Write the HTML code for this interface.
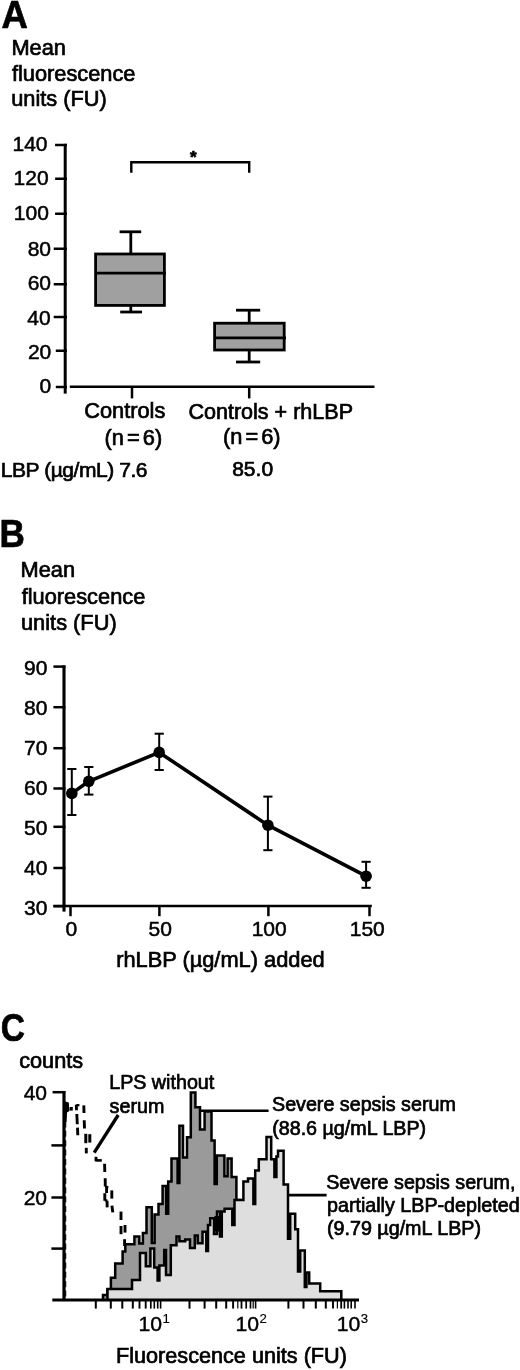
<!DOCTYPE html>
<html lang="en">
<head>
<meta charset="utf-8">
<title>Figure</title>
<style>
html,body{margin:0;padding:0;background:#fff;}
body{width:520px;height:1370px;overflow:hidden;}
svg{display:block;}
svg text{font-family:"Liberation Sans", Arial, Helvetica, sans-serif;fill:#000;}
svg text{stroke:#000;stroke-width:0.7px;}
</style>
</head>
<body>
<svg width="520" height="1370" viewBox="0 0 520 1370">
<rect x="0" y="0" width="520" height="1370" fill="#fff" stroke="none"/>
<g id="panelA" stroke="#000">
<text transform="translate(1.4,27.7) scale(0.95,1)" font-size="38.4" font-weight="bold">A</text>
<text x="11.4" y="54.6" font-size="21.8">Mean</text>
<text x="11.9" y="81.0" font-size="21.8">fluorescence</text>
<text x="11.2" y="106.3" font-size="21.8">units (FU)</text>
<line x1="65.2" y1="143.8" x2="65.2" y2="393.6" stroke-width="3.0"/>
<line x1="55.1" y1="145" x2="67.0" y2="145" stroke-width="2.5"/>
<text x="47.5" y="151.3" font-size="21" text-anchor="end" style="stroke-width:0.5px">140</text>
<line x1="55.1" y1="178.75" x2="67.0" y2="178.75" stroke-width="2.5"/>
<text x="48.6" y="185.3" font-size="21" text-anchor="end" style="stroke-width:0.5px">120</text>
<line x1="55.1" y1="213.75" x2="67.0" y2="213.75" stroke-width="2.5"/>
<text x="48.9" y="220.2" font-size="21" text-anchor="end" style="stroke-width:0.5px">100</text>
<line x1="53.7" y1="248.75" x2="67.0" y2="248.75" stroke-width="2.5"/>
<text x="51.0" y="255.8" font-size="21" text-anchor="end" style="stroke-width:0.5px">80</text>
<line x1="53.7" y1="284.25" x2="67.0" y2="284.25" stroke-width="2.5"/>
<text x="51.0" y="289.9" font-size="21" text-anchor="end" style="stroke-width:0.5px">60</text>
<line x1="53.7" y1="317" x2="67.0" y2="317" stroke-width="2.5"/>
<text x="50.6" y="324.5" font-size="21" text-anchor="end" style="stroke-width:0.5px">40</text>
<line x1="55.8" y1="350.75" x2="67.0" y2="350.75" stroke-width="2.5"/>
<text x="51.3" y="358.8" font-size="21" text-anchor="end" style="stroke-width:0.5px">20</text>
<line x1="55.8" y1="387" x2="67.0" y2="387" stroke-width="2.5"/>
<text x="51.3" y="393.2" font-size="21" text-anchor="end" style="stroke-width:0.5px">0</text>
<line x1="69.8" y1="386.8" x2="374.5" y2="386.8" stroke-width="2.5"/>
<line x1="132.0" y1="386.8" x2="132.0" y2="398.4" stroke-width="2.5"/>
<line x1="249.2" y1="386.8" x2="249.2" y2="398.4" stroke-width="2.5"/>
<polyline points="131.3,172.7 131.3,162.3 249.2,162.3 249.2,172.7" fill="none" stroke-width="2.4"/>
<text x="193.2" y="163.0" font-size="17" font-weight="bold" text-anchor="middle">*</text>
<line x1="130.8" y1="231.8" x2="130.8" y2="312" stroke-width="2.8"/>
<line x1="119.6" y1="231.8" x2="141.2" y2="231.8" stroke-width="2.8"/>
<line x1="120.2" y1="312" x2="142" y2="312" stroke-width="2.8"/>
<rect x="95.6" y="254.0" width="68.8" height="51.4" fill="#a0a0a0" stroke-width="2.8"/>
<line x1="95.6" y1="273.1" x2="166" y2="273.1" stroke-width="2.9"/>
<line x1="249.2" y1="310.2" x2="249.2" y2="362" stroke-width="2.8"/>
<line x1="236" y1="310.2" x2="260.2" y2="310.2" stroke-width="2.8"/>
<line x1="236" y1="362" x2="260.2" y2="362" stroke-width="2.8"/>
<rect x="214.6" y="323.2" width="69.6" height="26.8" fill="#a0a0a0" stroke-width="2.8"/>
<line x1="214.6" y1="337.9" x2="286" y2="337.9" stroke-width="2.9"/>
<text x="84.2" y="418.3" font-size="21.8">Controls</text>
<text x="104.6" y="445" font-size="21.8" word-spacing="-3">(n = 6)</text>
<text x="188.4" y="418.5" font-size="21.55">Controls + rhLBP</text>
<text x="223.0" y="444.4" font-size="21.8" word-spacing="-3">(n = 6)</text>
<text x="0.8" y="476.7" font-size="21" letter-spacing="-0.45">LBP (µg/mL) 7.6</text>
<text x="232.2" y="476.2" font-size="21">85.0</text>
</g>
<g id="panelB" stroke="#000">
<text transform="translate(-0.6,546.9) scale(0.917,1)" font-size="38.3" font-weight="bold">B</text>
<text x="20.5" y="577.3" font-size="21.8">Mean</text>
<text x="21.7" y="603.8" font-size="21.8">fluorescence</text>
<text x="21.0" y="629.6" font-size="21.8">units (FU)</text>
<line x1="64" y1="665.4" x2="64" y2="911.6" stroke-width="3.1"/>
<line x1="53.4" y1="666.6" x2="65.4" y2="666.6" stroke-width="2.5"/>
<text x="47.4" y="675.3" font-size="21" text-anchor="end" style="stroke-width:0.5px">90</text>
<line x1="53.4" y1="707.2" x2="65.4" y2="707.2" stroke-width="2.5"/>
<text x="47.4" y="715.3" font-size="21" text-anchor="end" style="stroke-width:0.5px">80</text>
<line x1="53.4" y1="748.2" x2="65.4" y2="748.2" stroke-width="2.5"/>
<text x="47.4" y="755.3" font-size="21" text-anchor="end" style="stroke-width:0.5px">70</text>
<line x1="53.4" y1="788.5" x2="65.4" y2="788.5" stroke-width="2.5"/>
<text x="47.4" y="795.3" font-size="21" text-anchor="end" style="stroke-width:0.5px">60</text>
<line x1="53.4" y1="826.8" x2="65.4" y2="826.8" stroke-width="2.5"/>
<text x="47.4" y="835.3" font-size="21" text-anchor="end" style="stroke-width:0.5px">50</text>
<line x1="53.4" y1="868" x2="65.4" y2="868" stroke-width="2.5"/>
<text x="47.4" y="875.3" font-size="21" text-anchor="end" style="stroke-width:0.5px">40</text>
<line x1="53.4" y1="906.2" x2="65.4" y2="906.2" stroke-width="2.5"/>
<text x="47.4" y="915.3" font-size="21" text-anchor="end" style="stroke-width:0.5px">30</text>
<line x1="53.4" y1="906.0" x2="371.8" y2="906.0" stroke-width="2.5"/>
<line x1="70.5" y1="906" x2="70.5" y2="916.2" stroke-width="2.5"/>
<text x="71.3" y="935.6" font-size="21" text-anchor="middle" style="stroke-width:0.5px">0</text>
<line x1="159.4" y1="906" x2="159.4" y2="916.2" stroke-width="2.5"/>
<text x="160.20000000000002" y="935.6" font-size="21" text-anchor="middle" style="stroke-width:0.5px">50</text>
<line x1="268.4" y1="906" x2="268.4" y2="916.2" stroke-width="2.5"/>
<text x="269.2" y="935.6" font-size="21" text-anchor="middle" style="stroke-width:0.5px">100</text>
<line x1="369.5" y1="906" x2="369.5" y2="916.2" stroke-width="2.5"/>
<text x="367.3" y="935.6" font-size="21" text-anchor="middle" style="stroke-width:0.5px">150</text>
<text x="116.2" y="967.2" font-size="21.8">rhLBP (µg/mL) added</text>
<polyline fill="none" stroke-width="3.6" stroke-linejoin="round" points="71.8,793.4 88.8,781.3 159.2,752.4 267.9,825.2 366.1,876.2"/>
<line x1="71.8" y1="769.0" x2="71.8" y2="815.0" stroke-width="2.0"/>
<line x1="67.2" y1="769.0" x2="76.39999999999999" y2="769.0" stroke-width="2.0"/>
<line x1="67.2" y1="815.0" x2="76.39999999999999" y2="815.0" stroke-width="2.0"/>
<circle cx="71.8" cy="793.4" r="5.8" fill="#000" stroke="none"/>
<line x1="88.8" y1="767.0" x2="88.8" y2="794.6" stroke-width="2.0"/>
<line x1="84.2" y1="767.0" x2="93.39999999999999" y2="767.0" stroke-width="2.0"/>
<line x1="84.2" y1="794.6" x2="93.39999999999999" y2="794.6" stroke-width="2.0"/>
<circle cx="88.8" cy="781.3" r="5.8" fill="#000" stroke="none"/>
<line x1="159.2" y1="733.7" x2="159.2" y2="770.0" stroke-width="2.0"/>
<line x1="154.6" y1="733.7" x2="163.79999999999998" y2="733.7" stroke-width="2.0"/>
<line x1="154.6" y1="770.0" x2="163.79999999999998" y2="770.0" stroke-width="2.0"/>
<circle cx="159.2" cy="752.4" r="5.8" fill="#000" stroke="none"/>
<line x1="267.9" y1="796.6" x2="267.9" y2="850.2" stroke-width="2.0"/>
<line x1="263.29999999999995" y1="796.6" x2="272.5" y2="796.6" stroke-width="2.0"/>
<line x1="263.29999999999995" y1="850.2" x2="272.5" y2="850.2" stroke-width="2.0"/>
<circle cx="267.9" cy="825.2" r="5.8" fill="#000" stroke="none"/>
<line x1="366.1" y1="861.8" x2="366.1" y2="887.8" stroke-width="2.0"/>
<line x1="361.5" y1="861.8" x2="370.70000000000005" y2="861.8" stroke-width="2.0"/>
<line x1="361.5" y1="887.8" x2="370.70000000000005" y2="887.8" stroke-width="2.0"/>
<circle cx="366.1" cy="876.2" r="5.8" fill="#000" stroke="none"/>
</g>
<g id="panelC" stroke="#000">
<text transform="translate(0.8,1040.9) scale(0.844,1)" font-size="39.7" font-weight="bold">C</text>
<text x="19.2" y="1068" font-size="21.7">counts</text>
<line x1="64.0" y1="1091.0" x2="64.0" y2="1300.4" stroke-width="3.2"/>
<line x1="52.6" y1="1092.2" x2="65.3" y2="1092.2" stroke-width="2.5"/>
<line x1="51.4" y1="1145.4" x2="65.3" y2="1145.4" stroke-width="2.5"/>
<line x1="51.4" y1="1197.5" x2="65.3" y2="1197.5" stroke-width="2.5"/>
<line x1="51.4" y1="1248.6" x2="65.3" y2="1248.6" stroke-width="2.5"/>
<text x="47.0" y="1100.3" font-size="21" text-anchor="end" style="stroke-width:0.5px">40</text>
<text x="47.0" y="1205.2" font-size="21" text-anchor="end" style="stroke-width:0.5px">20</text>
<line x1="52.3" y1="1300.0" x2="359.0" y2="1300.0" stroke-width="2.8"/>
<line x1="95.8" y1="1300.4" x2="95.8" y2="1308.6" stroke-width="2"/>
<line x1="110.8" y1="1300.4" x2="110.8" y2="1308.6" stroke-width="2"/>
<line x1="122.3" y1="1300.4" x2="122.3" y2="1308.6" stroke-width="2"/>
<line x1="132.8" y1="1300.4" x2="132.8" y2="1308.6" stroke-width="2"/>
<line x1="139.5" y1="1300.4" x2="139.5" y2="1308.6" stroke-width="1.9"/>
<line x1="145.7" y1="1300.4" x2="145.7" y2="1308.6" stroke-width="1.9"/>
<line x1="150.8" y1="1300.4" x2="150.8" y2="1308.6" stroke-width="1.7"/>
<line x1="154.3" y1="1300.4" x2="154.3" y2="1308.6" stroke-width="1.6"/>
<line x1="157.7" y1="1300.4" x2="157.7" y2="1308.6" stroke-width="1.6"/>
<line x1="160.6" y1="1300.4" x2="160.6" y2="1308.6" stroke-width="1.6"/>
<line x1="189.5" y1="1300.4" x2="189.5" y2="1308.6" stroke-width="2"/>
<line x1="204.6" y1="1300.4" x2="204.6" y2="1308.6" stroke-width="2"/>
<line x1="216.2" y1="1300.4" x2="216.2" y2="1308.6" stroke-width="2"/>
<line x1="226.2" y1="1300.4" x2="226.2" y2="1308.6" stroke-width="2"/>
<line x1="233.1" y1="1300.4" x2="233.1" y2="1308.6" stroke-width="1.9"/>
<line x1="237.8" y1="1300.4" x2="237.8" y2="1308.6" stroke-width="1.2"/>
<line x1="241.5" y1="1300.4" x2="241.5" y2="1308.6" stroke-width="1.8"/>
<line x1="246.2" y1="1300.4" x2="246.2" y2="1308.6" stroke-width="1.7"/>
<line x1="250.5" y1="1300.4" x2="250.5" y2="1308.6" stroke-width="1.7"/>
<line x1="253.2" y1="1300.4" x2="253.2" y2="1308.6" stroke-width="1.2"/>
<line x1="255.6" y1="1300.4" x2="255.6" y2="1308.6" stroke-width="1.6"/>
<line x1="288.4" y1="1300.4" x2="288.4" y2="1308.6" stroke-width="2"/>
<line x1="303.5" y1="1300.4" x2="303.5" y2="1308.6" stroke-width="2"/>
<line x1="315.8" y1="1300.4" x2="315.8" y2="1308.6" stroke-width="2"/>
<line x1="325.8" y1="1300.4" x2="325.8" y2="1308.6" stroke-width="2"/>
<line x1="333.0" y1="1300.4" x2="333.0" y2="1308.6" stroke-width="1.9"/>
<line x1="337.4" y1="1300.4" x2="337.4" y2="1308.6" stroke-width="1.2"/>
<line x1="341.2" y1="1300.4" x2="341.2" y2="1308.6" stroke-width="1.8"/>
<line x1="344.4" y1="1300.4" x2="344.4" y2="1308.6" stroke-width="1.6"/>
<line x1="348.0" y1="1300.4" x2="348.0" y2="1308.6" stroke-width="1.6"/>
<line x1="351.2" y1="1300.4" x2="351.2" y2="1308.6" stroke-width="1.6"/>
<line x1="355.0" y1="1300.4" x2="355.0" y2="1308.6" stroke-width="1.6"/>
<path d="M65.7,1112 V1298" stroke-width="1.1" stroke-dasharray="6 3.4" fill="none"/>
<path d="M64.4,1101.2 L68.8,1102.6 L69.4,1111 L67,1112.4 L66.6,1122 L64.4,1122 Z" fill="#000" stroke="none"/>
<line x1="69.6" y1="1108.8" x2="72.8" y2="1108.8" stroke-width="3.6"/>
<line x1="76.3" y1="1104.6" x2="76.5" y2="1110.2" stroke-width="2.9"/>
<line x1="76.4" y1="1105.2" x2="79.4" y2="1105.2" stroke-width="2.3"/>
<line x1="76.8" y1="1114.0" x2="77.3" y2="1124.2" stroke-width="2.9"/>
<line x1="77.5" y1="1127.6" x2="77.8" y2="1135.2" stroke-width="2.9"/>
<line x1="83.8" y1="1105.4" x2="84.0" y2="1113.0" stroke-width="2.9"/>
<line x1="84.2" y1="1120.2" x2="84.5" y2="1128.5" stroke-width="2.9"/>
<line x1="85.8" y1="1133.8" x2="85.8" y2="1143.2" stroke-width="3.0"/>
<line x1="89.8" y1="1134.2" x2="89.8" y2="1142.6" stroke-width="3.0"/>
<line x1="86.3" y1="1147.8" x2="86.3" y2="1153.4" stroke-width="2.9"/>
<line x1="96.0" y1="1156.8" x2="96.0" y2="1161.0" stroke-width="2.9"/>
<line x1="95.2" y1="1160.4" x2="101.8" y2="1160.4" stroke-width="2.6"/>
<line x1="104.6" y1="1163.8" x2="104.8" y2="1172.0" stroke-width="2.9"/>
<line x1="105.2" y1="1178.2" x2="105.3" y2="1186.5" stroke-width="2.9"/>
<line x1="105.0" y1="1187.0" x2="108.4" y2="1187.0" stroke-width="2.2"/>
<line x1="106.6" y1="1187.5" x2="106.6" y2="1193.0" stroke-width="2.9"/>
<line x1="104.8" y1="1193.2" x2="104.8" y2="1200.8" stroke-width="2.9"/>
<line x1="104.8" y1="1200.4" x2="107.4" y2="1200.4" stroke-width="2.2"/>
<line x1="107.0" y1="1200.8" x2="107.2" y2="1207.4" stroke-width="2.9"/>
<line x1="111.8" y1="1190.4" x2="111.8" y2="1198.6" stroke-width="2.9"/>
<line x1="111.9" y1="1205.6" x2="112.8" y2="1212.4" stroke-width="2.9"/>
<line x1="121.0" y1="1211.6" x2="121.0" y2="1220.0" stroke-width="2.9"/>
<line x1="121.0" y1="1226.0" x2="121.0" y2="1234.2" stroke-width="2.9"/>
<line x1="125.0" y1="1225.0" x2="125.0" y2="1232.6" stroke-width="2.9"/>
<line x1="124.6" y1="1239.2" x2="124.6" y2="1246.0" stroke-width="2.9"/>
<line x1="118.2" y1="1115.0" x2="94.2" y2="1152.6" stroke-width="3.3"/>
<text x="109.2" y="1088.8" font-size="19.7">LPS without</text>
<text x="109.6" y="1112.5" font-size="19.7">serum</text>
<path d="M103,1299.8V1295H107.5V1289.2H110.9V1277.8H115.2V1263.6H122.6V1251.5H125.3V1244.2H134.4V1236.6H139.3V1243.5H142.9V1233H146.5V1207.3H151.8V1243H154.6V1214.5H158.5V1204H162.6V1186H166.2V1213.8H168.2V1181.5H171.5V1158.6H177.6V1183H179.4V1125.8H183V1157.4H187V1137.3H190.8V1092.4H195.4V1107.3H200V1129.6H204.6V1111.4H211.5V1140.4H214.6V1184H216.8V1155.4H224.4V1176.2H227.6V1158.5H231.6V1177H236.4V1200H240V1230H250V1260H260V1290H270V1299.8Z" fill="#9a9a9a" stroke-width="2.5" stroke-linejoin="miter"/>
<path d="M107.5,1299.8V1289H132V1280H140V1253H145.8V1266.3H150.4V1248.4H154.2V1267.5H157.6V1280.5H159.4V1265.4H164.2V1250H166V1275H170.8V1245.2H176.5V1236.5H179.4V1241.3H185.2V1239.4H190V1248H194.8V1235.6H197.7V1243.3H202.5V1231.7H206.3V1251H208V1225H210.2V1218.3H214V1234H217V1211.5H220V1236.5H221.8V1211.5H224.6V1208.7H232.3V1225H234.5V1200H243.4V1181.5H248V1178.4H253.4V1204H255.2V1170.6H258.8V1159.2H266.5V1137H271.2V1159.2H274.4V1177H276.4V1156.4H278V1150.8H283.6V1184.6H288V1238.8H290.2V1213.8H295.2V1229.2H298V1271.5H300.2V1250.4H304.8V1287H306.4V1272.5H309.2V1283.5H320.2V1291.2H341.3V1299.8Z" fill="#dedede" stroke-width="2.5" stroke-linejoin="miter"/>
<rect x="214.4" y="1216" width="7.4" height="15.5" fill="#000" stroke="none"/>
<line x1="200" y1="1110.8" x2="268.6" y2="1110.8" stroke-width="2.6"/>
<line x1="289" y1="1195.1" x2="326.6" y2="1195.1" stroke-width="2.6"/>
<text x="272.0" y="1110.6" font-size="19.7">Severe sepsis serum</text>
<text x="272.2" y="1134.5" font-size="19.7">(88.6 µg/mL LBP)</text>
<text x="326.2" y="1188.5" font-size="19.7">Severe sepsis serum,</text>
<text x="327.0" y="1211.8" font-size="19.7">partially LBP-depleted</text>
<text x="327.0" y="1235.1" font-size="19.7">(9.79 µg/mL LBP)</text>
<text x="138.4" y="1330.5" font-size="20.6" textLength="23.6" lengthAdjust="spacingAndGlyphs" style="stroke-width:0.4px">10</text>
<text x="162.4" y="1323.3" font-size="13.2" style="stroke-width:0.15px">1</text>
<text x="235.4" y="1330.5" font-size="20.6" textLength="23.6" lengthAdjust="spacingAndGlyphs" style="stroke-width:0.4px">10</text>
<text x="259.4" y="1323.3" font-size="13.2" style="stroke-width:0.15px">2</text>
<text x="336.8" y="1330.5" font-size="20.6" textLength="23.6" lengthAdjust="spacingAndGlyphs" style="stroke-width:0.4px">10</text>
<text x="360.8" y="1323.3" font-size="13.2" style="stroke-width:0.15px">3</text>
<text x="116.0" y="1362.6" font-size="21.65">Fluorescence units (FU)</text>
</g>
</svg>
</body>
</html>
